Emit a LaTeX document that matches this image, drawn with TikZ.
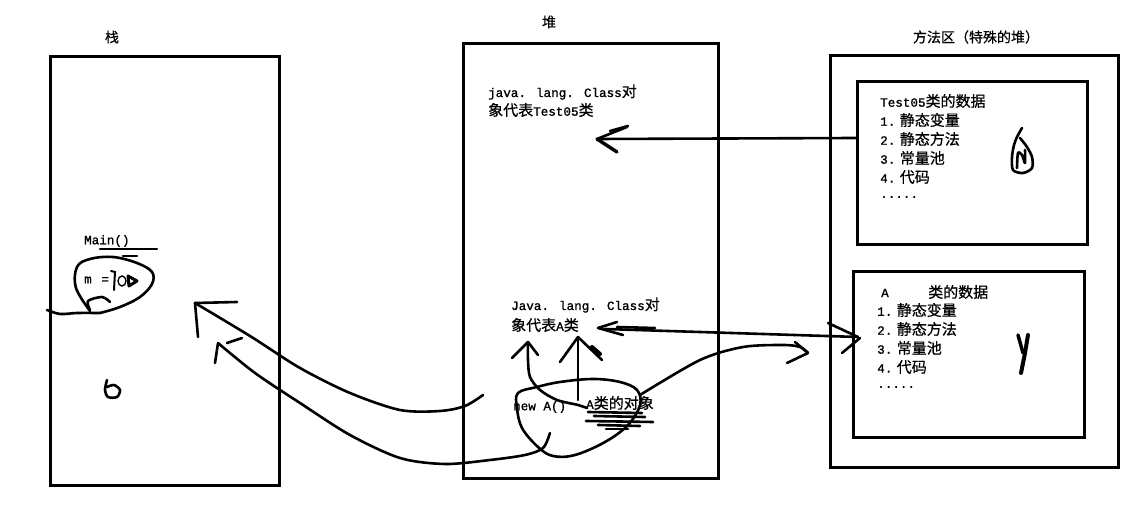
\documentclass[tikz,border=0pt]{standalone}
\usepackage{fontspec}
\newfontfamily\cjk[FakeBold=0.6]{Noto Sans CJK SC}
\newfontfamily\lat[Scale=0.84,FakeBold=1.2]{Liberation Mono}
\tikzset{
  frame/.style={draw, line width=3pt, inner sep=0pt},
  ink/.style={line width=2.6pt, line cap=round, line join=round},
  lbl/.style={anchor=west, inner sep=0pt, font=\cjk\fontsize{15}{18}\selectfont},
  ttl/.style={inner sep=0pt, font=\cjk\fontsize{14}{17}\selectfont}
}
\begin{document}
\begin{tikzpicture}[x=1pt,y=-1pt]
\useasboundingbox[fill=white] (0,0) rectangle (1146,518);

% frames
\node[frame, minimum width=229pt, minimum height=428pt] (stack) at (164.5,271) {};
\node[frame, minimum width=255pt, minimum height=434pt] (heap) at (590.5,261) {};
\node[frame, minimum width=288pt, minimum height=411pt] (meth) at (974,261.5) {};
\node[frame, minimum width=230pt, minimum height=163pt] (inA) at (972,163.5) {};
\node[frame, minimum width=231pt, minimum height=165pt] (inB) at (968.5,354.5) {};

% titles
\node[ttl] (tstack) at (112,37) {栈};
\node[ttl] (theap) at (549,22) {堆};
\node[ttl] (tmeth) at (976,37) {方法区（特殊的堆）};

% heap texts
\node[lbl] (c1a) at (488,92) {{\lat java. lang. Class}对};
\node[lbl] (c1b) at (488,110) {象代表{\lat Test05}类};
\node[lbl] (c2a) at (511,305) {{\lat Java. lang. Class}对};
\node[lbl] (c2b) at (511,325) {象代表{\lat A}类};
\node[lbl] (newa) at (513,407) {{\lat new A()}};
\node[lbl] (aobj) at (586,403) {{\lat A}类的对象};

% stack texts
\node[lbl] (main) at (84,241) {{\lat Main()}};
\node[lbl] (meq) at (84,280) {{\lat m \,=}};

% method area box 1
\node[lbl] (d0) at (880,101) {{\lat Test05}类的数据};
\node[lbl] (d1) at (880,120) {{\lat 1.} 静态变量};
\node[lbl] (d2) at (880,139) {{\lat 2.} 静态方法};
\node[lbl] (d3) at (880,158) {{\lat 3.} 常量池};
\node[lbl] (d4) at (880,177) {{\lat 4.} 代码};
\node[lbl] (d5) at (880,197) {{\lat .....}};

% method area box 2
\node[lbl] (e0a) at (881,293) {{\lat A}};
\node[lbl] (e0b) at (928,292) {类的数据};
\node[lbl] (e1) at (877,310) {{\lat 1.} 静态变量};
\node[lbl] (e2) at (877,329) {{\lat 2.} 静态方法};
\node[lbl] (e3) at (877,348) {{\lat 3.} 常量池};
\node[lbl] (e4) at (877,367) {{\lat 4.} 代码};
\node[lbl] (e5) at (877,387) {{\lat .....}};

% ---- hand strokes in the stack ----
\draw[ink] plot[smooth, tension=0.6] coordinates {(90,311) (76,288) (77,267) (90,259) (113,257) (137,263) (152,272) (152,284) (140,297) (120,307) (100,313)};
\draw[ink] plot[smooth] coordinates {(47,310) (60,314) (77,313) (100,313)};
\draw[ink] plot[smooth] coordinates {(90,310) (88,301) (102,297) (110,302)};
\draw[ink] (100,249) -- (157,249);
\draw[ink] (123,256) -- (137,256);
\draw[line width=2pt, line cap=round] (111,271) -- (115,272) -- (114,290);
\draw[line width=1.4pt] (122,281) ellipse (4 and 5);
\draw[line width=3pt, line join=round] (128,276) -- (137,281) -- (129,286) -- cycle;
\draw[ink] plot[smooth] coordinates {(107,380) (105,390) (108,397) (117,397) (120,390) (114,385) (107,387)};

% ---- arrows from heap to stack ----
\coordinate (s1) at (195,303);
\draw[ink] plot[smooth] coordinates {(483,395) (465,406) (440,411) (400,410) (350,393) (300,368) (250,336) (195,303)};
\draw[ink] (s1) -- (237,302);
\draw[ink] (s1) -- (198,337);

\coordinate (s2) at (218,343);
\draw[ink] plot[smooth] coordinates {(550,433) (543,448) (525,455) (490,460) (445,464) (400,458) (350,435) (300,403) (255,373) (218,343)};
\draw[ink] (s2) -- (215,363);
\draw[ink] (227,343) -- (242,338);

% ---- blob around the object in the heap ----
\draw[ink] plot[smooth cycle, tension=0.6] coordinates {(518,393) (537,387) (560,382) (593,379) (620,382) (637,390) (640,405) (628,425) (605,442) (575,455) (553,456) (538,447) (522,428) (517,408)};

% arrows up to the class object
\coordinate (h1) at (528,342);
\draw[ink] plot[smooth] coordinates {(587,408) (578,405) (557,400) (540,390) (530,377) (528,360) (h1)};
\draw[ink] (h1) -- (512,358);
\draw[ink] (h1) -- (538,355);

\coordinate (h2) at (578,337);
\draw[ink] (578,400) -- (h2);
\draw[ink] (h2) -- (560,362);
\draw[ink] (h2) -- (602,360);
\draw[line width=4pt, line cap=round] (592,347) -- (600,354);

% scribbles under the object label
\draw[ink] (588,412) -- (642,413);
\draw[ink] (594,416) -- (645,417);
\draw[ink] (586,421) -- (653,422);
\draw[ink] (598,425) -- (640,426);
\draw[ink] (606,429) -- (628,429);

% curve to the right
\coordinate (r1) at (808,353);
\draw[ink] plot[smooth] coordinates {(640,395) (700,360) (743,347) (783,345) (800,347) (r1)};
\draw[ink] (r1) -- (787,363);
\draw[ink] (795,342) -- (r1);

% double arrow heap <-> box 2
\coordinate (da) at (598,328);
\coordinate (db) at (858,337);
\draw[ink] (605,329) -- (db);
\draw[ink] (da) -- (617,322);
\draw[ink] (da) -- (623,335);
\draw[ink] (617,327) -- (655,328);
\draw[ink] (828,323) -- (db);
\draw[ink] (842,353) -- (860,338);

% arrow box 1 -> heap class object
\coordinate (ta) at (597,139);
\draw[ink] (ta) -- (inA.west |- 0,138);
\draw[ink] (ta) -- (627,127);
\draw[ink] (610,131) -- (628,126);
\draw[line width=3.4pt, line cap=round] (ta) -- (617,152);

% marks in the method area boxes
\draw[ink] plot[smooth] coordinates {(1022,128) (1017,137) (1014,145) (1012,157) (1013,170) (1023,173) (1032,168) (1032,157) (1027,147) (1020,138)};
\draw[ink] plot[smooth] coordinates {(1017,168) (1018,153) (1022,155) (1025,163) (1025,150)};
\draw[line width=3.5pt, line cap=round] (1018,335) -- (1023,353);
\draw[line width=4pt, line cap=round, line join=round] (1028,335) -- (1025,353) -- (1021,373);

\end{tikzpicture}
\end{document}
